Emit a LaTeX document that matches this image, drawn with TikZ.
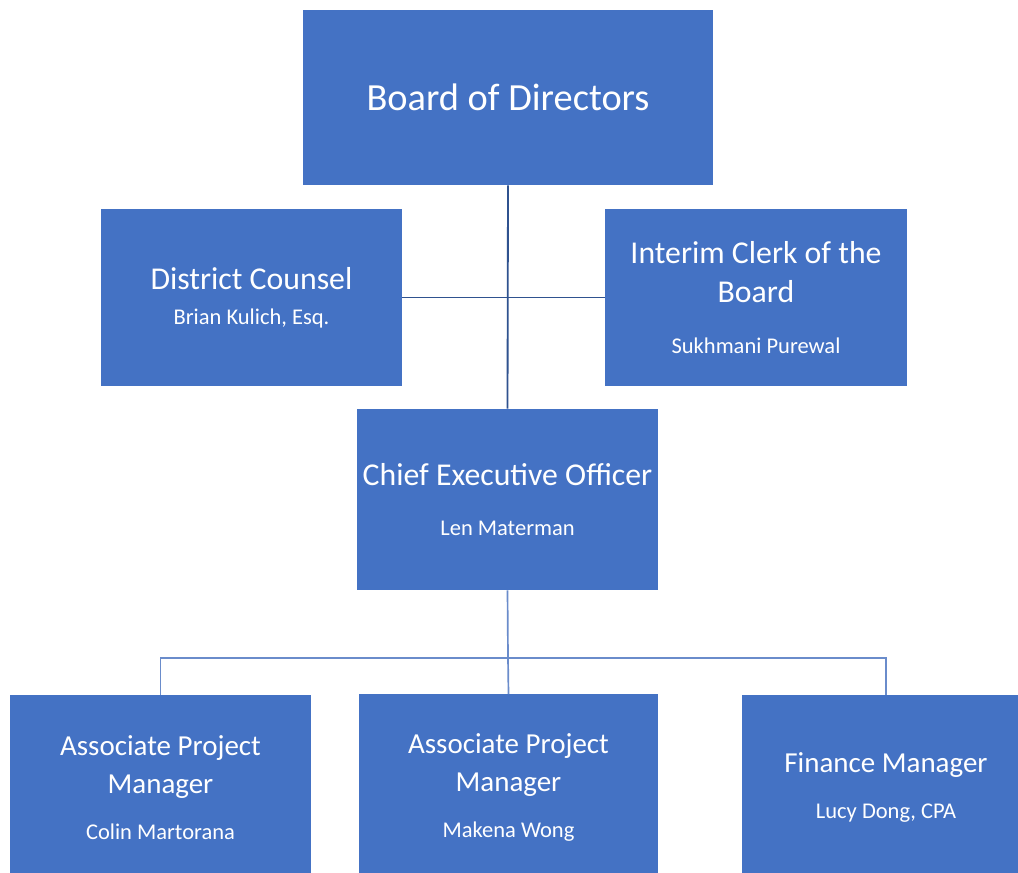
\documentclass[tikz,border=0pt]{standalone}
\usepackage{fontspec}
\setmainfont{Carlito}
\definecolor{boxblue}{HTML}{4472C4}
\definecolor{darkline}{HTML}{2F528F}
\definecolor{lightline}{HTML}{6A8CCB}
\newcommand{\bigtitle}{\fontsize{27.3}{33}\selectfont}
\newcommand{\titlefont}{\fontsize{22.6}{27.7}\selectfont}
\newcommand{\stafftitle}{\fontsize{20.6}{27}\selectfont}
\newcommand{\namefont}{\fontsize{16}{19}\selectfont}
\begin{document}
\begin{tikzpicture}[
			x=0.025cm, y=-0.025cm,
			box/.style={rectangle, fill=boxblue, text=white, align=center, inner sep=0pt,
					minimum width=7.525cm, font=\titlefont},
			staff/.style={box, minimum height=4.625cm, font=\stafftitle},
			upline/.style={darkline, line width=1.3pt},
			lowline/.style={lightline, line width=1.2pt}
		]
		\fill[white] (0,0) rectangle (1018,873);
		\useasboundingbox (0,0) rectangle (1018,873);

		\node[box, minimum width=10.25cm, minimum height=4.375cm, font=\bigtitle] (board) at (508,97.5) {Board of Directors};
		\node[box, minimum height=4.425cm] (counsel) at (251.5,297.5) {District Counsel\\[-2.7pt]{\namefont Brian Kulich, Esq.}};
		\node[box, minimum height=4.425cm] (clerk) at (756,297.5) {Interim Clerk of the\\Board\\[8pt]{\namefont Sukhmani Purewal}};
		\node[box, minimum height=4.525cm] (ceo) at (507.5,499.5) {Chief Executive Officer\\[8pt]{\namefont Len Materman}};

		\node[staff] (apm1) at (160.5,787.5) {Associate Project\\Manager\\[5.7pt]{\namefont Colin Martorana}};
		\node[staff, minimum width=7.475cm] (apm2) at (508.5,787) {Associate Project\\Manager\\[5.7pt]{\namefont Makena Wong}};
		\node[staff, minimum width=7.2cm] (fin) at (886,787.5) {Finance Manager\\[5.7pt]{\namefont Lucy Dong, CPA}};

		\draw[upline] (board.south) -- (ceo.north);
		\draw[upline] (counsel.east) -- (clerk.west);

		\coordinate (bus) at (508,658);
		\draw[lowline] (ceo.south) -- (bus);
		\draw[lowline] (apm1.north) |- (bus) -| (fin.north);
		\draw[lowline] (bus) -- (apm2.north);
	\end{tikzpicture}
\end{document}
